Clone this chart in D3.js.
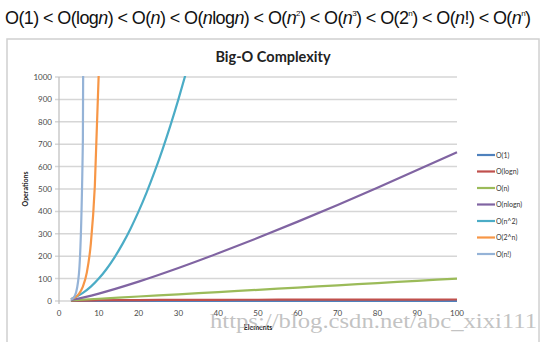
<!DOCTYPE html>
<html>
<head>
<meta charset="utf-8">
<script src="https://cdn.jsdelivr.net/npm/d3@7"></script>
<style>
  html, body { margin: 0; padding: 0; background: #fff; }
  svg { display: block; }
</style>
</head>
<body>
<svg id="chart" width="551" height="342"></svg>
<script>
// Growth of common complexity classes, operations vs. number of elements
const seriesNames = ["O(1)", "O(logn)", "O(n)", "O(nlogn)", "O(n^2)", "O(2^n)", "O(n!)"];
const seriesColors = ["#4F81BD", "#C0504D", "#9BBB59", "#8064A2", "#4BACC6", "#F79646", "#95B3D7"];

const elementsLong = [3, 4, 10, 20, 30, 40, 50, 60, 70, 80, 90, 100];
const constValues = [1, 1, 1, 1, 1, 1, 1, 1, 1, 1, 1, 1];
const logValues = [1.58, 2, 3.32, 4.32, 4.91, 5.32, 5.64, 5.91, 6.13, 6.32, 6.49, 6.64];
const linearValues = [3, 4, 10, 20, 30, 40, 50, 60, 70, 80, 90, 100];
const nlognValues = [4.75, 8, 33.2, 86.4, 147.2, 212.9, 282.2, 354.4, 429.0, 505.8, 584.3, 664.4];

const elementsSquare = [3, 4, 6, 8, 10, 12, 14, 16, 18, 20, 22, 24, 26, 28, 30, 32];
const squareValues = [9, 16, 36, 64, 100, 144, 196, 256, 324, 400, 484, 576, 676, 784, 900, 1024];

const elementsExp = [3, 4, 5, 6, 7, 8, 9, 10];
const expValues = [8, 16, 32, 64, 128, 256, 512, 1024];

const elementsFact = [3, 4, 5, 6, 7];
const factValues = [6, 24, 120, 720, 5040];

const xTicks = [0, 10, 20, 30, 40, 50, 60, 70, 80, 90, 100];
const yTicks = [0, 100, 200, 300, 400, 500, 600, 700, 800, 900, 1000];

const seriesData = [
  [elementsLong, constValues],
  [elementsLong, logValues],
  [elementsLong, linearValues],
  [elementsLong, nlognValues],
  [elementsSquare, squareValues],
  [elementsExp, expValues],
  [elementsFact, factValues]
];

const svg = d3.select("#chart");

// Ordering formula across the top
const formula = svg.append("text")
  .attr("x", 5).attr("y", 24)
  .attr("font-family", "Liberation Sans, Arial, sans-serif")
  .attr("font-size", 18)
  .attr("fill", "#111")
  .attr("textLength", 526)
  .attr("lengthAdjust", "spacing");
const parts = [
  ["O(1) < O(log", ""], ["n", "i"], [") < O(", ""], ["n", "i"], [") < O(", ""],
  ["n", "i"], ["log", ""], ["n", "i"], [") < O(", ""], ["n", "i"], ["2", "s"],
  [") < O(", ""], ["n", "i"], ["3", "s"], [") < O(2", ""], ["n", "s"],
  [") < O(", ""], ["n", "i"], ["!) < O(", ""], ["n", "i"], ["n", "s"], [")", ""]
];
let raised = false;
parts.forEach(([t, k]) => {
  const ts = formula.append("tspan").text(t);
  if (k === "i") ts.attr("font-style", "italic");
  if (k === "s") {
    ts.attr("font-size", 8).attr("dy", raised ? 0 : -8);
    raised = true;
  } else if (raised) {
    ts.attr("dy", 8);
    raised = false;
  }
});

// Chart frame
svg.append("rect")
  .attr("x", 7).attr("y", 39).attr("width", 532).attr("height", 320)
  .attr("fill", "#fff").attr("stroke", "#d0d0d0").attr("stroke-width", 1.5);

svg.append("text")
  .attr("x", 273).attr("y", 62)
  .attr("text-anchor", "middle")
  .attr("font-family", "Lato, Open Sans, sans-serif")
  .attr("font-weight", "bold")
  .attr("font-size", 14.5)
  .attr("fill", "#222")
  .text("Big-O Complexity");

const x = d3.scaleLinear().domain([0, 100]).range([59, 457]);
const y = d3.scaleLinear().domain([0, 1000]).range([301, 77]);

// Horizontal gridlines with short outward ticks
svg.append("g").selectAll("line").data(yTicks).join("line")
  .attr("x1", 55).attr("x2", x(100))
  .attr("y1", d => y(d)).attr("y2", d => y(d))
  .attr("stroke", "#d6d6d6").attr("stroke-width", 1.5);

svg.append("line")
  .attr("x1", x(0)).attr("x2", x(0)).attr("y1", y(1000)).attr("y2", y(0) + 3)
  .attr("stroke", "#bdbdbd").attr("stroke-width", 1.2);

const tickFont = "Lato, Open Sans, sans-serif";
svg.append("g").selectAll("text").data(yTicks).join("text")
  .attr("x", 52).attr("y", d => y(d) + 3)
  .attr("text-anchor", "end")
  .attr("font-family", tickFont).attr("font-size", 8)
  .attr("fill", "#4a4a4a")
  .text(d => d);

svg.append("g").selectAll("text").data(xTicks).join("text")
  .attr("x", d => x(d)).attr("y", 316)
  .attr("text-anchor", "middle")
  .attr("font-family", tickFont).attr("font-size", 8)
  .attr("fill", "#4a4a4a")
  .text(d => d);

svg.append("text")
  .attr("transform", "translate(28,189) rotate(-90)")
  .attr("text-anchor", "middle")
  .attr("font-family", tickFont).attr("font-weight", "bold").attr("font-size", 7)
  .attr("fill", "#222")
  .text("Operations");

svg.append("text")
  .attr("x", 258).attr("y", 330)
  .attr("text-anchor", "middle")
  .attr("font-family", tickFont).attr("font-weight", "bold").attr("font-size", 7)
  .attr("fill", "#222")
  .text("Elements");

// Series lines, clipped to the plot area
svg.append("clipPath").attr("id", "plot-clip")
  .append("rect").attr("x", x(0)).attr("y", y(1000) - 1)
  .attr("width", x(100) - x(0) + 2).attr("height", y(0) - y(1000) + 2);

const line = d3.line()
  .x(d => x(d[0])).y(d => y(d[1]))
  .curve(d3.curveMonotoneX);

const plot = svg.append("g").attr("clip-path", "url(#plot-clip)");
seriesData.forEach(([xs, vs], i) => {
  plot.append("path")
    .datum(xs.map((v, j) => [v, vs[j]]))
    .attr("d", line)
    .attr("fill", "none")
    .attr("stroke", seriesColors[i])
    .attr("stroke-width", 2.2);
});

// Legend
const legend = svg.append("g").selectAll("g").data(seriesNames).join("g")
  .attr("transform", (d, i) => `translate(477,${155 + i * 16.5})`);
legend.append("line")
  .attr("x1", 0).attr("x2", 18)
  .attr("stroke", (d, i) => seriesColors[i]).attr("stroke-width", 2.2);
legend.append("text")
  .attr("x", 19).attr("y", 2.5)
  .attr("font-family", tickFont).attr("font-size", 7)
  .attr("fill", "#333")
  .text(d => d);

// Blog address stamped across the lower right
svg.append("text")
  .attr("x", 210).attr("y", 328)
  .attr("font-family", "Liberation Serif, DejaVu Serif, serif")
  .attr("font-size", 20)
  .attr("fill", "#b8b8b8")
  .attr("fill-opacity", 0.85)
  .attr("textLength", 327)
  .attr("lengthAdjust", "spacingAndGlyphs")
  .text("https://blog.csdn.net/abc_xixi111");
</script>
</body>
</html>
